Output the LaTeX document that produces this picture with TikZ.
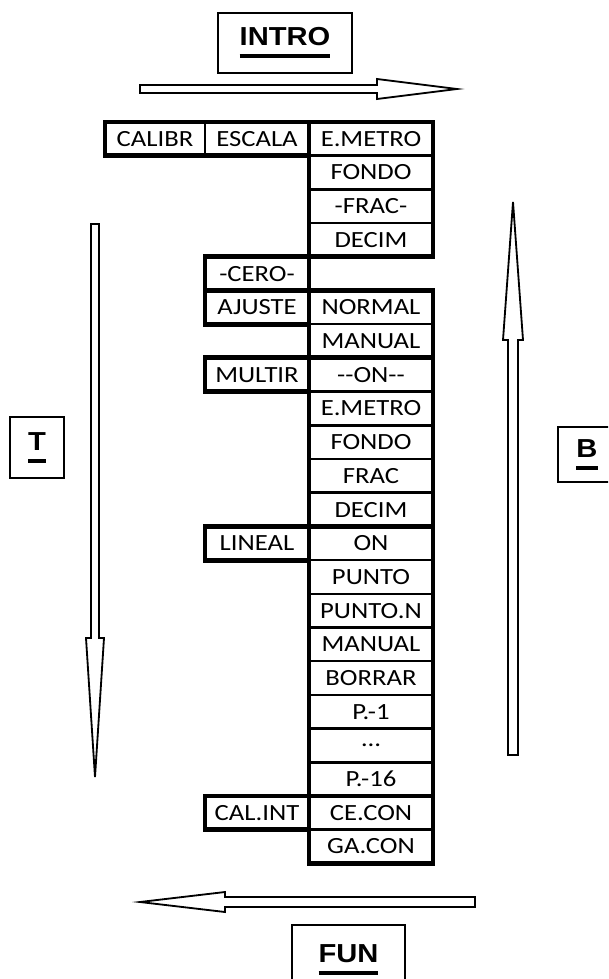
\documentclass[tikz,border=0pt]{standalone}
\usepackage{fontspec}
\newfontfamily\cellfont{Carlito}[FakeStretch=1.15]
\newfontfamily\labfont{Liberation Sans}[FakeStretch=1.12]
\newsavebox\labbox
\newcommand{\labline}[1]{\sbox\labbox{#1}\rlap{\usebox\labbox}\rule[-9pt]{\wd\labbox}{3pt}}

\begin{document}
\begin{tikzpicture}[x=0.025cm, y=-0.025cm,
  cell/.style={draw, line width=1.8pt, inner sep=0pt, outer sep=0pt, minimum height=0.8425cm, font=\cellfont\fontsize{16.5}{19}\selectfont},
  cola/.style={cell, minimum width=2.5cm},
  colb/.style={cell, minimum width=2.6cm},
  colc/.style={cell, minimum width=3.1cm},
  grp/.style={line width=3.5pt},
  labelbox/.style={draw, line width=1.2pt, inner sep=0pt, font=\labfont\bfseries\fontsize{18.5}{20}\selectfont},
  blockarrow/.style={draw, line width=1.3pt, fill=white}]
	\path[use as bounding box, clip] (0,0) rectangle (608,979);
	% menu table
	\node[cola] (calibr) at (155,138.85) {CALIBR};
	\node[colb] (escala) at (257,138.85) {ESCALA};
	\node[colc] (emetro) at (371,138.85) {E.METRO};
	\node[colc] (fondo) at (371,172.55) {FONDO};
	\node[colc] (frac) at (371,206.25) {-FRAC-};
	\node[colc] (decim) at (371,239.95) {DECIM};
	\node[colb] (cero) at (257,273.65) {-CERO-};
	\node[colb] (ajuste) at (257,307.35) {AJUSTE};
	\node[colc] (normal) at (371,307.35) {NORMAL};
	\node[colc] (manual) at (371,341.05) {MANUAL};
	\node[colb] (multir) at (257,374.75) {MULTIR};
	\node[colc] (mon) at (371,374.75) {-{}-ON-{}-};
	\node[colc] (memetro) at (371,408.45) {E.METRO};
	\node[colc] (mfondo) at (371,442.15) {FONDO};
	\node[colc] (mfrac) at (371,475.85) {FRAC};
	\node[colc] (mdecim) at (371,509.55) {DECIM};
	\node[colb] (lineal) at (257,543.25) {LINEAL};
	\node[colc] (lon) at (371,543.25) {ON};
	\node[colc] (punto) at (371,576.95) {PUNTO};
	\node[colc] (punton) at (371,610.65) {PUNTO.N};
	\node[colc] (lmanual) at (371,644.35) {MANUAL};
	\node[colc] (borrar) at (371,678.05) {BORRAR};
	\node[colc] (pone) at (371,711.75) {P.-1};
	\node[colc] (pdots) at (371,745.45) {…};
	\node[colc] (plast) at (371,779.15) {P.-16};
	\node[colb] (calint) at (257,812.85) {CAL.INT};
	\node[colc] (cecon) at (371,812.85) {CE.CON};
	\node[colc] (gacon) at (371,846.55) {GA.CON};
	% thick group borders
	\draw[grp] (calibr.north west) rectangle (escala.south east);
	\draw[grp] (emetro.north west) rectangle (decim.south east);
	\draw[grp] (cero.north west) rectangle (cero.south east);
	\draw[grp] (ajuste.north west) rectangle (ajuste.south east);
	\draw[grp] (normal.north west) rectangle (manual.south east);
	\draw[grp] (multir.north west) rectangle (multir.south east);
	\draw[grp] (mon.north west) rectangle (mdecim.south east);
	\draw[grp] (lineal.north west) rectangle (lineal.south east);
	\draw[grp] (lon.north west) rectangle (plast.south east);
	\draw[grp] (calint.north west) rectangle (calint.south east);
	\draw[grp] (cecon.north west) rectangle (gacon.south east);
	% keys
	\node[labelbox, minimum width=3.35cm, minimum height=1.5cm] (intro) at (285,43) {\labline{INTRO}};
	\node[labelbox, minimum width=2.825cm, minimum height=1.75cm] (fun) at (348.5,960) {\labline{FUN}};
	\node[labelbox, minimum width=1.35cm, minimum height=1.525cm] (tkey) at (37,447.5) {\labline{T}};
	\node[labelbox, minimum width=1.45cm, minimum height=1.375cm] (bkey) at (587,454.5) {\labline{B}};
	% block arrows
	\draw[blockarrow] (140,85) -- (377,85) -- (377,79) -- (457,89) -- (377,99) -- (377,93) -- (140,93) -- cycle;
	\draw[blockarrow] (475,897) -- (225,897) -- (225,892) -- (140,902) -- (225,912) -- (225,907) -- (475,907) -- cycle;
	\draw[blockarrow] (91,224) -- (91,638) -- (86,638) -- (95,777) -- (104,638) -- (99,638) -- (99,224) -- cycle;
	\draw[blockarrow] (508,755) -- (508,340) -- (503,340) -- (513,202) -- (523,340) -- (518,340) -- (518,755) -- cycle;
\end{tikzpicture}
\end{document}
